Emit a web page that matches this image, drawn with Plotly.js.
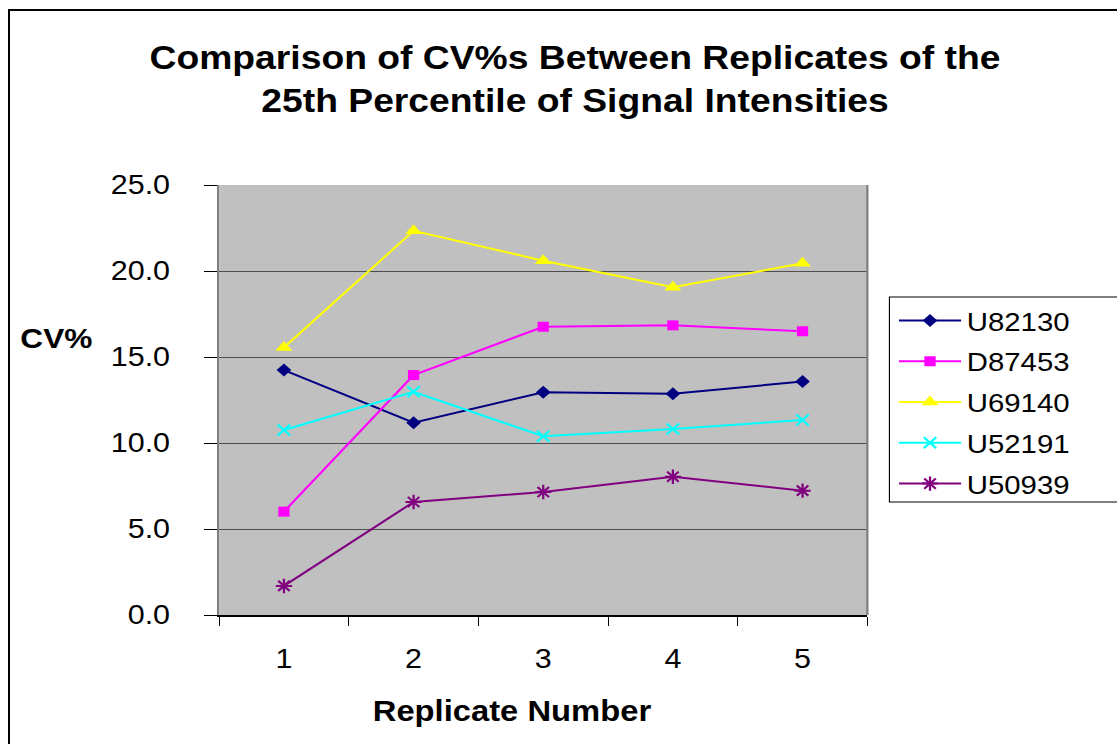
<!DOCTYPE html>
<html><head><meta charset="utf-8">
<script src="https://cdn.plot.ly/plotly-3.0.1.min.js"></script>
<style>
html,body{margin:0;padding:0;background:#fff;overflow:hidden;width:1117px;height:744px;}
#frame{position:absolute;left:8px;top:9px;width:1200px;height:800px;border:2px solid #000;pointer-events:none;z-index:2;}
#chart{position:absolute;left:0;top:0;width:989px;height:744px;transform:scaleX(1.1294);transform-origin:0 0;}
</style></head><body>
<div id="chart"></div><div id="frame"></div>
<script>
const categories = ['1','2','3','4','5'];
const seriesNames = ['U82130','D87453','U69140','U52191','U50939'];
const U82130 = [14.24, 11.18, 12.95, 12.87, 13.57];
const D87453 = [6.01, 13.95, 16.76, 16.84, 16.49];
const U69140 = [15.55, 22.34, 20.6, 19.05, 20.45];
const U52191 = [10.76, 12.98, 10.39, 10.81, 11.34];
const U50939 = [1.69, 6.57, 7.15, 8.04, 7.23];
const yTickVals = [0, 5, 10, 15, 20, 25];
const yTickText = ['0.0', '5.0', '10.0', '15.0', '20.0', '25.0'];

const FONT = "'Liberation Sans', Arial, sans-serif";
const seriesValues = [U82130, D87453, U69140, U52191, U50939];
const styles = [
  {color: '#000080', symbol: 'diamond', size: 10},
  {color: '#FF00FF', symbol: 'square', size: 10},
  {color: '#FFFF00', symbol: 'triangle-up', size: 13},
  {color: '#00FFFF', symbol: 'x-thin-open', size: 11},
  {color: '#800080', symbol: 'asterisk-open', size: 12}
];
const traces = seriesNames.map((name, i) => ({
  type: 'scatter', mode: 'lines+markers', name: name,
  x: categories, y: seriesValues[i], legendgroup: name,
  line: {color: styles[i].color, width: 2},
  marker: {color: styles[i].color, symbol: styles[i].symbol, size: styles[i].size,
           line: {color: styles[i].color, width: (i >= 3 ? 2 : 0)}}
}));

const layout = {
  width: 989, height: 744,
  margin: {l: 194, r: 220.5, t: 185, b: 129, autoexpand: false},
  paper_bgcolor: 'rgba(0,0,0,0)', plot_bgcolor: '#c0c0c0',
  font: {family: FONT, color: '#000'},
  title: {text: 'Comparison of CV%s Between Replicates of the<br>25th Percentile of Signal Intensities',
          font: {family: FONT, size: 33, color: '#000', weight: 'bold'},
          x: 0.5148, xref: 'container', xanchor: 'center', y: 0.907, yref: 'container', yanchor: 'middle'},
  xaxis: {type: 'category', range: [-0.5, 4.5], tickson: 'boundaries', ticks: 'outside', ticklen: 9, tickcolor: '#000', tickwidth: 1,
          showline: true, linecolor: '#000', linewidth: 1.5, showgrid: false, zeroline: false,
          tickfont: {family: FONT, size: 27, color: '#000'}, ticklabelstandoff: 19, fixedrange: true},
  yaxis: {range: [0, 25], tickvals: yTickVals, ticktext: yTickText, ticks: 'outside', ticklen: 11, tickcolor: '#000',
          showline: true, linecolor: '#808080', linewidth: 2, showgrid: true, gridcolor: '#4d4d4d', gridwidth: 1,
          zeroline: false, tickfont: {family: FONT, size: 27, color: '#000'}, ticklabelstandoff: 25, fixedrange: true},
  showlegend: true,
  legend: {x: 1.04, y: 0.7395, xanchor: 'left', yanchor: 'top', bgcolor: 'rgba(0,0,0,0)', borderwidth: 0,
           font: {family: FONT, size: 26, color: '#000'}, tracegroupgap: 4, itemwidth: 55},
  shapes: [
    {type: 'line', xref: 'paper', yref: 'paper', x0: 1, x1: 1, y0: 0, y1: 1, line: {color: '#808080', width: 2}},
    {type: 'rect', xref: 'paper', yref: 'paper', x0: 1.034, x1: 1.6, y0: 0.2628, y1: 0.7395,
     fillcolor: '#fff', line: {color: '#000', width: 1}}
  ],
  annotations: [
    {text: 'CV%', xref: 'paper', yref: 'paper', x: -0.2507, y: 0.642, xanchor: 'center', yanchor: 'middle',
     showarrow: false, font: {family: FONT, size: 28, color: '#000', weight: 'bold'}},
    {text: 'Replicate Number', xref: 'paper', yref: 'paper', x: 0.4515, y: -0.2233, xanchor: 'center', yanchor: 'middle',
     showarrow: false, font: {family: FONT, size: 29, color: '#000', weight: 'bold'}}
  ]
};
Plotly.newPlot('chart', traces, layout, {displayModeBar: false, staticPlot: true});
</script>
</body></html>
